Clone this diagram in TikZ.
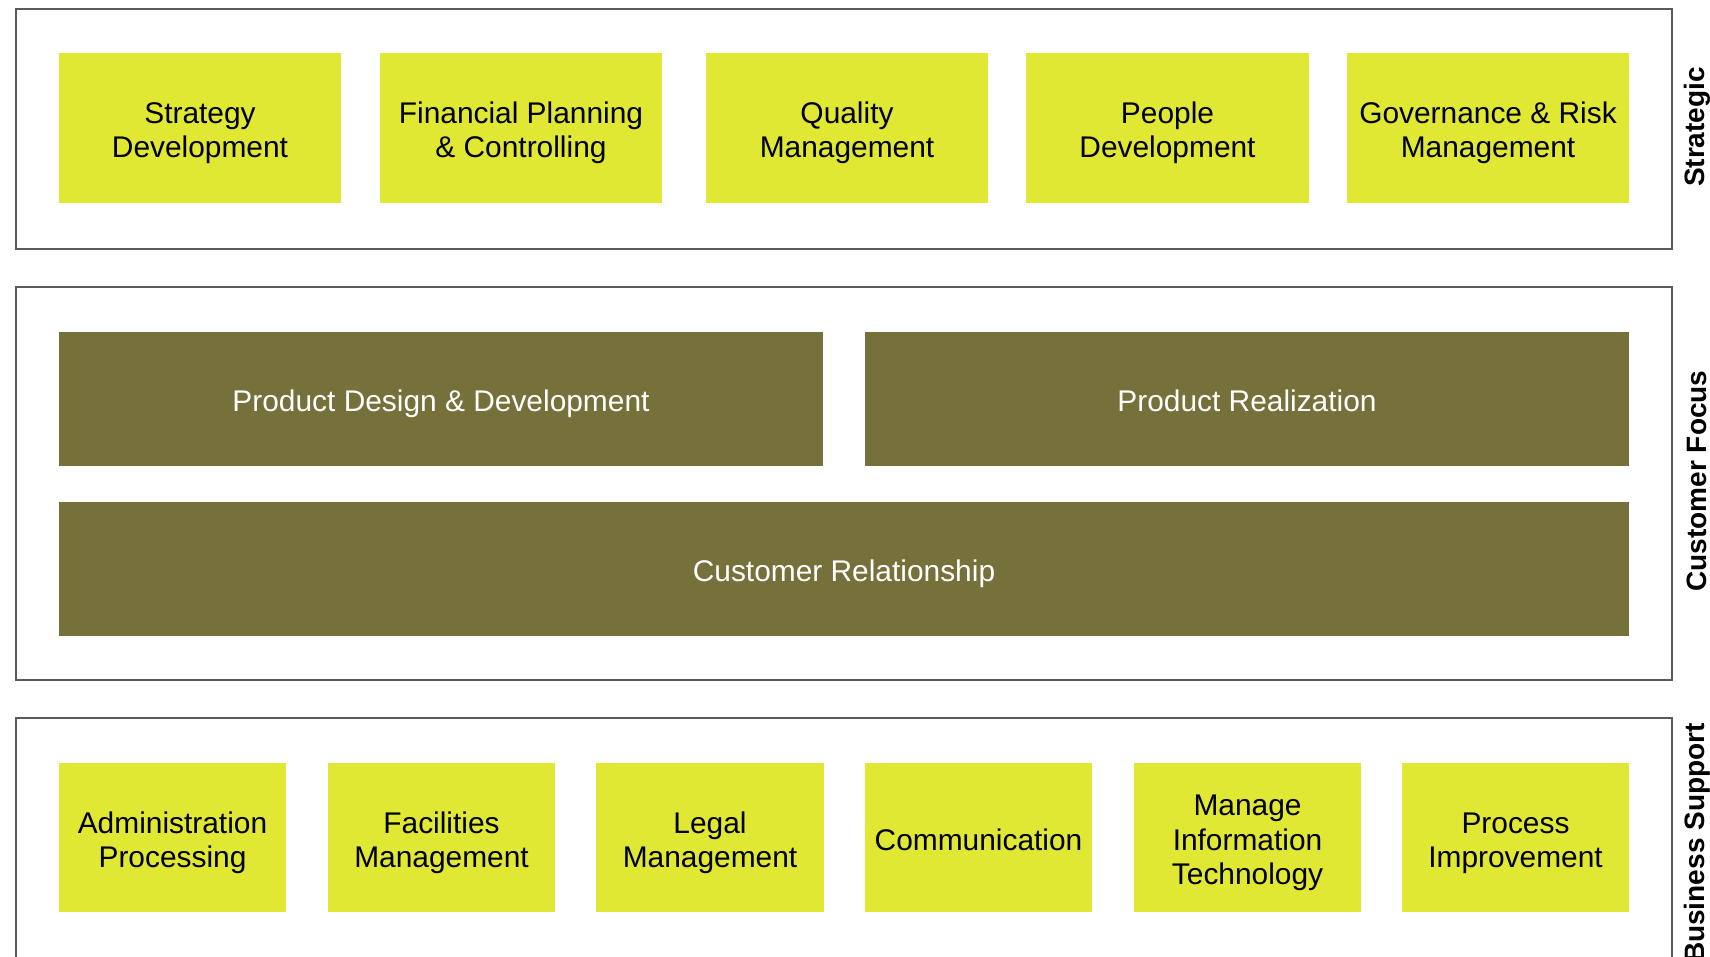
\documentclass[tikz,border=0pt]{standalone}
\usepackage{fontspec}
\setmainfont{Liberation Sans}
\definecolor{lime}{HTML}{E1E834}
\definecolor{olive}{HTML}{76703A}
\definecolor{framegray}{HTML}{5A5A5A}
\begin{document}
\begin{tikzpicture}[x=0.01cm,y=-0.01cm,
  frame/.style={draw=framegray, line width=0.45pt},
  boxtext/.style={inner sep=0pt, outer sep=0pt, align=center,
    font=\fontsize{8.5pt}{9.7pt}\selectfont,
    execute at begin node={\rule{0pt}{1.2em}},
    execute at end node={\rule[-0.36em]{0pt}{0.36em}}},
  twolines/.style={execute at begin node={\rule{0pt}{19.9pt}}},
  threelines/.style={execute at begin node={\rule{0pt}{29.6pt}}},
  limebox/.style={boxtext, fill=lime, text=black, minimum width=2.82cm, minimum height=1.50cm},
  smallbox/.style={limebox, minimum width=2.27cm, minimum height=1.49cm},
  olivebox/.style={boxtext, fill=olive, text=white, minimum height=1.34cm},
  layer/.style={rotate=90, inner sep=0pt, font=\bfseries\fontsize{7.97pt}{9.5pt}\selectfont}]
\useasboundingbox (0,0) rectangle (1710,956);
% frames
\draw [frame] (16,9) rectangle (1672,249);
\draw [frame] (16,287) rectangle (1672,680);
\draw [frame] (16,960) -- (16,718) -- (1672,718) -- (1672,960);
% strategic
\node [limebox, twolines] (strat) at (200,128) {Strategy\\Development};
\node [limebox, twolines] (fin) at (521,128) {Financial Planning\\\& Controlling};
\node [limebox, twolines] (qual) at (847,128) {Quality\\Management};
\node [limebox, twolines] (people) at (1167.5,128) {People\\Development};
\node [limebox, twolines] (gov) at (1488,128) {Governance \& Risk\\Management};
% customer focus
\node [olivebox, minimum width=7.64cm] (design) at (441,399) {Product Design \& Development};
\node [olivebox, minimum width=7.64cm] (real) at (1247,399) {Product Realization};
\node [olivebox, minimum width=15.70cm] (crm) at (844,569) {Customer Relationship};
% business support
\node [smallbox, twolines] (admin) at (172.5,837.5) {Administration\\Processing};
\node [smallbox, twolines] (facil) at (441.5,837.5) {Facilities\\Management};
\node [smallbox, twolines] (legal) at (710,837.5) {Legal\\Management};
\node [smallbox] (comm) at (978.5,837.5) {Communication};
\node [smallbox, threelines] (mit) at (1247.5,837.5) {Manage\\Information\\Technology};
\node [smallbox, twolines] (proc) at (1515.5,837.5) {Process\\Improvement};
% layer labels
\node [layer] (lstrat) at (1697,127) {Strategic};
\node [layer] (lcust) at (1697,481) {Customer Focus};
\node [layer] (lbus) at (1697,843) {Business Support};
\end{tikzpicture}
\end{document}
